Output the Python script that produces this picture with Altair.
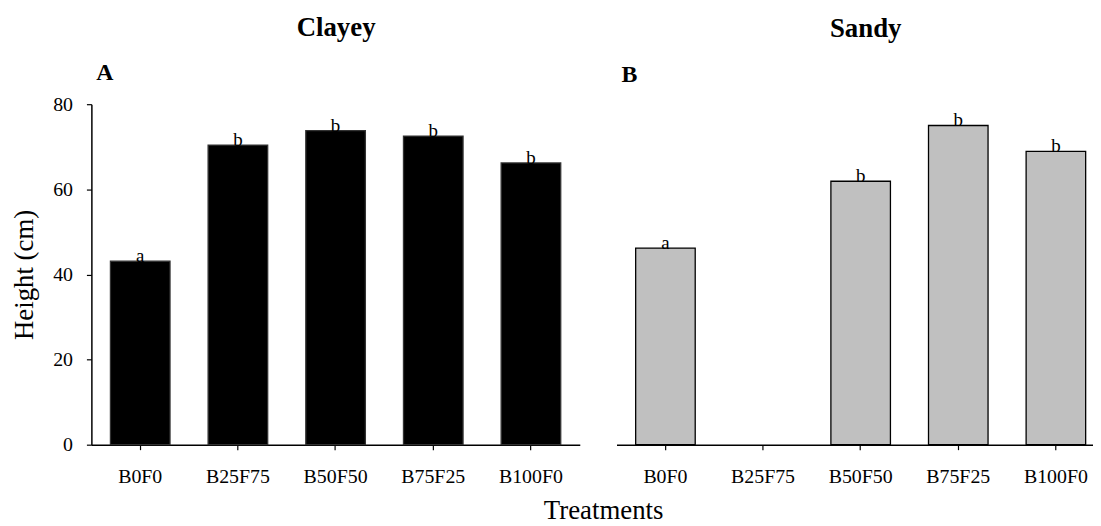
import altair as alt
import pandas as pd

FONT = "Liberation Serif"

treatments = ["B0F0", "B25F75", "B50F50", "B75F25", "B100F0"]
clayey = [43.1, 70.4, 73.8, 72.5, 66.2]
sandy = [46.2, None, 61.9, 75.0, 68.9]
clayey_letters = ["a", "b", "b", "b", "b"]
sandy_letters = ["a", "", "b", "b", "b"]
y_ticks = [0, 20, 40, 60, 80]

df_c = pd.DataFrame({"treatment": treatments, "height": clayey, "letter": clayey_letters})
df_s = pd.DataFrame({"treatment": treatments, "height": sandy, "letter": sandy_letters})

yscale = alt.Scale(domain=[0, 80], nice=False, zero=True)

xaxis = alt.Axis(
    title=None, labelAngle=0, labelFont=FONT, labelFontSize=20, labelColor="black",
    labelPadding=17, domainColor="black", domainWidth=1.5, tickColor="black",
    tickWidth=1.2, tickSize=5,
)

yaxis_left = alt.Axis(
    title="Height (cm)", values=y_ticks, grid=False, labelFont=FONT, labelFontSize=20,
    labelColor="black", labelPadding=14, domainColor="black", domainWidth=1.5,
    tickColor="black", tickWidth=1.2, tickSize=5, titleFont=FONT, titleFontSize=27,
    titleFontWeight="normal", titleColor="black", titlePadding=14,
)


def panel(df, xscale, fill, stroke, yaxis, letter, width, letter_offset):
    base = alt.Chart(df)
    x = alt.X("treatment:N", sort=treatments, scale=xscale, axis=xaxis)
    bars = base.mark_bar(fill=fill, stroke=stroke, strokeWidth=1.3).encode(
        x=x, y=alt.Y("height:Q", scale=yscale, axis=yaxis)
    )
    text = base.mark_text(baseline="alphabetic", dy=1, font=FONT, fontSize=19, color="black").encode(
        x=x, y=alt.Y("height:Q", scale=yscale), text="letter:N"
    )
    return alt.layer(bars, text).properties(
        width=width, height=343,
        title=alt.TitleParams(letter, anchor="start", frame="group", font=FONT, fontSize=24,
                              fontWeight="bold", color="black", dx=5, offset=letter_offset),
    )


left = panel(df_c, alt.Scale(paddingInner=0.39, paddingOuter=0.195), "black", "#333333",
             yaxis_left, "A", 492, 9)
right = panel(df_s, alt.Scale(paddingInner=0.39, paddingOuter=0.1357, align=0.723), "#c0c0c0",
              "black", None, "B", 480, 17)

left_w = alt.hconcat(left, title=alt.TitleParams("Clayey", anchor="middle", font=FONT, fontSize=27,
                                                 fontWeight="bold", color="black", offset=20, dx=41))
right_w = alt.hconcat(right, title=alt.TitleParams("Sandy", anchor="middle", font=FONT, fontSize=27,
                                                   fontWeight="bold", color="black", offset=21, dx=11))

chart = alt.hconcat(left_w, right_w, spacing=37).properties(
    title=alt.TitleParams("Treatments", orient="bottom", anchor="middle", font=FONT,
                          fontSize=27, fontWeight="normal", color="black", offset=12, dx=52),
    padding={"left": 3, "top": 4, "right": 0, "bottom": 0},
).configure_view(stroke=None)

chart.save("out.html", embed_options={"renderer": "svg", "actions": False})
